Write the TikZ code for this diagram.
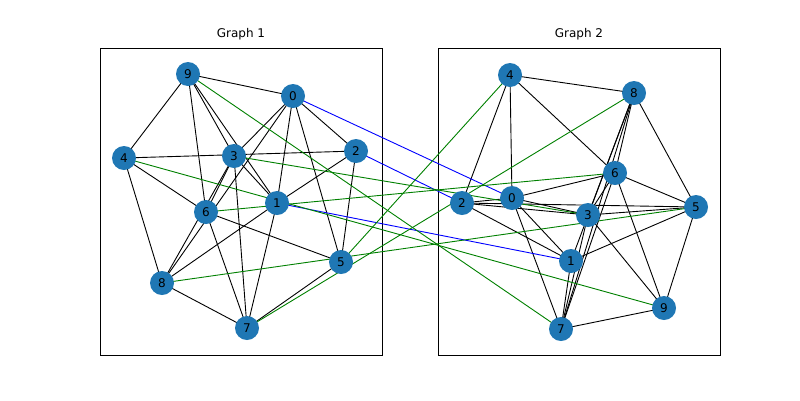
\documentclass[tikz,border=0pt]{standalone}
\usepackage{fontspec}
\setmainfont{DejaVu Sans}
\usetikzlibrary{positioning}
\definecolor{tabblue}{HTML}{1F77B4}
\definecolor{mplgreen}{HTML}{008000}
\tikzset{vert/.style={circle, fill=tabblue, minimum size=24pt, inner sep=0pt, font=\fontsize{12}{12}\selectfont},
   edge/.style={draw, black, line width=0.9pt},
   match/.style={draw, mplgreen, line width=0.9pt},
   miss/.style={draw, blue, line width=0.9pt},
   frame/.style={draw, black, line width=0.8pt},
   title/.style={font=\fontsize{12}{12}\selectfont}}

\begin{document}
\begin{tikzpicture}[x=1pt, y=-1pt]
   \useasboundingbox (0,0) rectangle (800,400);
   % Frames
   \node[frame, minimum width=282pt, minimum height=307pt, inner sep=0pt](boxA) at (241,201.5){};
   \node[frame, minimum width=282pt, minimum height=307pt, inner sep=0pt](boxB) at (579,201.5){};
   \node[title, above=4pt of boxA](titleA){Graph 1};
   \node[title, above=4pt of boxB](titleB){Graph 2};

   % Graph 1 vertices
   \foreach \n/\x/\y in {9/188/74, 0/293/96, 2/356/151, 4/124/158, 3/234/156,
                         1/277/203, 6/206/212, 5/341/262, 8/162/283, 7/247/328}
      \coordinate (a\n) at (\x,\y);
   % Graph 2 vertices
   \foreach \n/\x/\y in {4/510/75, 8/634/93, 6/615/173, 0/512/198, 2/462/203,
                         3/588/215, 5/696/207, 1/571/261, 9/664/308, 7/561/329}
      \coordinate (b\n) at (\x,\y);

   % Graph 1 edges
   \foreach \u/\v in {9/0, 9/4, 9/6, 9/3, 9/1, 0/2, 0/3, 0/8, 0/1, 0/5,
                      4/2, 4/6, 4/8, 3/1, 3/6, 3/8, 3/7, 2/1, 2/5,
                      1/8, 1/7, 6/5, 6/7, 8/7, 5/7}
      \path[edge] (a\u) -- (a\v);
   % Graph 2 edges
   \foreach \u/\v in {4/8, 4/2, 4/0, 4/6, 8/6, 8/3, 8/7, 8/1, 8/5, 6/0, 6/3,
                      6/5, 6/9, 6/7, 2/0, 2/3, 2/1, 0/3, 0/1, 0/7, 3/5,
                      3/7, 3/9, 1/5, 1/7, 7/9, 5/9, 2/5}
      \path[edge] (b\u) -- (b\v);

   % Correspondences
   \foreach \u/\v in {0/0, 2/2, 1/1}
      \path[miss] (a\u) -- (b\v);
   \foreach \u/\v in {9/7, 4/9, 3/3, 6/6, 8/5, 5/4, 7/8}
      \path[match] (a\u) -- (b\v);

   % Vertices on top
   \foreach \n in {0,...,9}{
      \node[vert](A\n) at (a\n){\n};
      \node[vert](B\n) at (b\n){\n};
   }
\end{tikzpicture}
\end{document}
